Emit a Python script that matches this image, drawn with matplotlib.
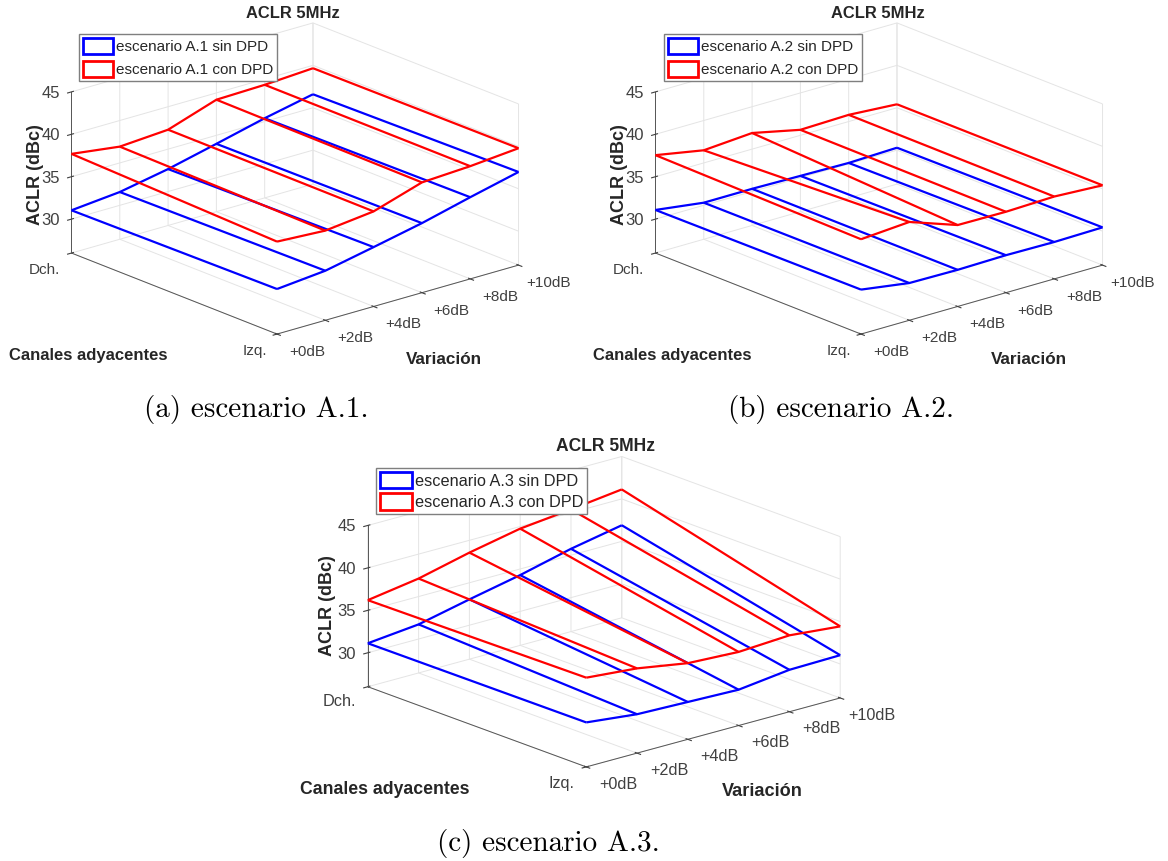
import numpy as np
from matplotlib import pyplot as plt
from matplotlib.patches import Patch
from matplotlib.transforms import ScaledTranslation

W_PX, H_PX = 1168, 861

canales = [0, 1]
canales_labels = ["Dch.", "Izq."]
variacion = [0, 2, 4, 6, 8, 10]
variacion_labels = ["+0dB", "+2dB", "+4dB", "+6dB", "+8dB", "+10dB"]
aclr_ticks = [30, 35, 40, 45]

a1_sin_dch = [31.04, 31.57, 32.65, 34.0, 35.39, 36.59]
a1_sin_izq = [31.31, 31.84, 33.0, 34.2, 35.63, 36.98]
a1_con_dch = [37.69, 36.92, 37.29, 39.2, 39.33, 39.66]
a1_con_izq = [36.9, 36.57, 37.21, 39.0, 39.29, 39.78]

a2_sin_dch = [31.08, 30.31, 30.32, 30.22, 30.12, 30.29]
a2_sin_izq = [31.24, 30.39, 30.32, 30.42, 30.35, 30.45]
a2_con_dch = [37.54, 36.49, 36.9, 35.65, 35.79, 35.41]
a2_con_izq = [37.18, 37.59, 35.6, 35.54, 35.71, 35.41]

a3_sin_dch = [31.12, 31.72, 33.04, 34.28, 35.75, 36.9]
a3_sin_izq = [31.24, 30.58, 30.4, 30.22, 30.94, 31.04]
a3_con_dch = [36.2, 37.12, 38.55, 39.75, 40.39, 41.12]
a3_con_izq = [36.51, 35.98, 34.97, 34.67, 35.0, 34.43]

plt.rcParams["font.family"] = ["Liberation Sans", "DejaVu Sans"]
plt.rcParams["grid.color"] = "#e4e4e4"
plt.rcParams["grid.linewidth"] = 0.7
plt.rcParams["axes3d.automargin"] = False

fig = plt.figure(figsize=(W_PX / 100, H_PX / 100), dpi=100)


def px(x, y):
    return x / W_PX, 1 - y / H_PX


def shift(ax, tick, dx, dy):
    tick.label1.set_ha("center")
    tick.label1.set_va("center")
    tick.label1.set_transform(ax.transData + ScaledTranslation(dx / 100, dy / 100, fig.dpi_scale_trans))
    # Axis3D.get_major_ticks puts transData back on every call, so block that
    tick.label1.set_transform = lambda t: None


def panel(cx, cy, size, el, az, box, name, sin_dch, sin_izq, con_dch, con_izq, caption, cap_xy,
          title_xy, zlab_xy, xlab_xy, ylab_xy, leg_xy, fs, xshift, yshift, zshift, leg_h):
    left = (cx - 0.5135 * size) / W_PX
    bottom = (H_PX - cy - 0.5135 * size) / H_PX
    ax = fig.add_axes([left, bottom, size / W_PX, size / H_PX], projection="3d", proj_type="ortho")
    ax.patch.set_alpha(0)
    ax.view_init(elev=el, azim=az)
    ax.set_box_aspect(box)
    ax.set_xlim(0, 1, view_margin=0)
    ax.set_ylim(0, 10, view_margin=0)
    ax.set_zlim(26, 45, view_margin=0)

    X, Y = np.meshgrid(canales, variacion)
    ax.plot_wireframe(X, Y, np.column_stack([sin_dch, sin_izq]), color="#0000ff", linewidth=1.6)
    ax.plot_wireframe(X, Y, np.column_stack([con_dch, con_izq]), color="#ff0000", linewidth=1.6)

    ax.set_xticks(canales)
    ax.set_xticklabels(canales_labels)
    ax.set_yticks(variacion)
    ax.set_yticklabels(variacion_labels)
    ax.set_zticks(aclr_ticks)
    ax.zaxis.set_ticks_position("lower")
    ax.tick_params(labelsize=11 * fs, labelcolor="#404040", colors="#404040", pad=2)
    ax.tick_params(axis="z", labelsize=12)
    for axis in [ax.xaxis, ax.yaxis, ax.zaxis]:
        axis.set_pane_color((1, 1, 1, 1))
        axis.pane.set_edgecolor("white")
        axis.line.set_color("#555555")
        axis.line.set_linewidth(0.7)
    for tick, d in zip(ax.xaxis.get_major_ticks(), xshift):
        shift(ax, tick, *d)
    for tick in ax.yaxis.get_major_ticks():
        shift(ax, tick, *yshift)
    for tick in ax.zaxis.get_major_ticks():
        shift(ax, tick, *zshift)

    fig.text(*px(*title_xy), "ACLR 5MHz", ha="center", va="center", fontsize=11.9 * fs, fontweight="bold", color="#262626")
    fig.text(*px(*zlab_xy), "ACLR (dBc)", ha="center", va="center", rotation=90, fontsize=13, fontweight="bold", color="#262626")
    fig.text(*px(*xlab_xy), "Canales adyacentes", ha="center", va="center", fontsize=12 * fs, fontweight="bold", color="#262626")
    fig.text(*px(*ylab_xy), "Variación", ha="center", va="center", fontsize=12.3 * fs, fontweight="bold", color="#262626")
    fig.text(*px(*cap_xy), caption, ha="center", va="center", family="cmr10", fontsize=21)

    handles = [Patch(facecolor="white", edgecolor="#0000ff", linewidth=2),
               Patch(facecolor="white", edgecolor="#ff0000", linewidth=2)]
    labels = ["escenario %s sin DPD" % name, "escenario %s con DPD" % name]
    fig.legend(handles, labels, loc="upper left", bbox_to_anchor=px(*leg_xy), fontsize=11 * fs, fancybox=False,
               edgecolor="#7f7f7f", framealpha=1, borderpad=0.25, handlelength=2.0, handleheight=leg_h,
               handletextpad=0.15, labelspacing=0.45 if fs == 1 else 0.3, borderaxespad=0, labelcolor="#262626")


panel(295, 178.5, 466, 19.6, -40.4, (317, 317, 171), "A.1", a1_sin_dch, a1_sin_izq, a1_con_dch, a1_con_izq,
      "(a) escenario A.1.", (256, 409), (293, 14), (35, 175), (88, 356), (444, 359), (79, 34), 1,
      [(-13, -4), (-8, -4)], (18, -4), (5, -2), 1.25)
panel(879, 178.5, 466, 19.6, -40.4, (317, 317, 171), "A.2", a2_sin_dch, a2_sin_izq, a2_con_dch, a2_con_izq,
      "(b) escenario A.2.", (841, 409), (878, 14), (619, 175), (672, 356), (1029, 359), (664, 34), 1,
      [(-13, -4), (-8, -4)], (18, -4), (5, -2), 1.25)
panel(604, 611.7, 488.6, 18.4, -40.7, (335, 335, 170), "A.3", a3_sin_dch, a3_sin_izq, a3_con_dch, a3_con_izq,
      "(c) escenario A.3.", (548, 843), (605, 447), (328, 606), (385, 790), (762, 792), (376, 468), 1.06,
      [(-15, -2), (-11, -4)], (20, -4), (5, -2), 1.15)

fig.savefig("out.png", dpi=100)
